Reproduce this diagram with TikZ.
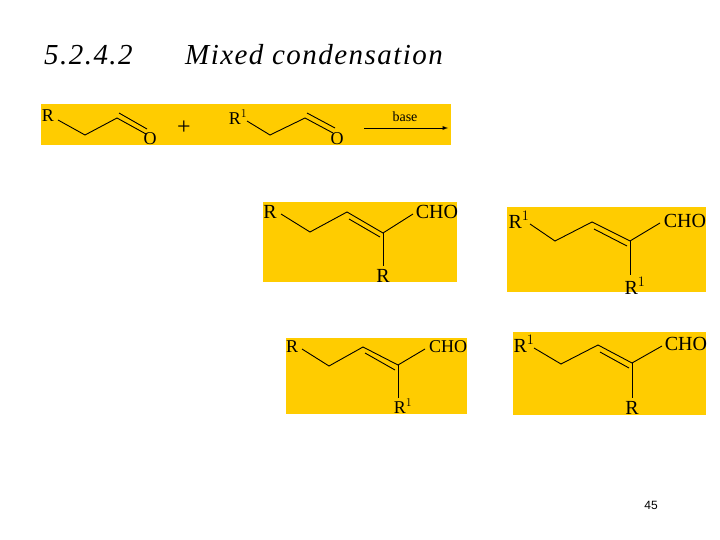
\documentclass[tikz,border=0pt]{standalone}
\usepackage{fontspec}
\setmainfont{Liberation Serif}
\newfontfamily\sans{Liberation Sans}
\newfontfamily\titlefont[LetterSpace=5]{Liberation Serif}
\definecolor{gold}{HTML}{FFCC00}
\begin{document}
\begin{tikzpicture}[x=1pt,y=-1pt,
  lbl/.style={inner sep=0pt,font=\fontsize{18}{18}\selectfont},
  big/.style={inner sep=0pt,font=\fontsize{20}{20}\selectfont},
  bond/.style={line width=0.9pt},
  box/.style={fill=gold}]
\useasboundingbox (0,0) rectangle (720,540);
\node[inner sep=0pt,font=\titlefont\fontsize{29}{29}\selectfont\itshape,anchor=west] (t1) at (44,55) {5.2.4.2};
\node[inner sep=0pt,font=\titlefont\fontsize{29}{29}\selectfont\itshape,anchor=west] (t2) at (185,55) {Mixed condensation};
\node[inner sep=0pt,font=\sans\fontsize{12}{12}\selectfont] (pg) at (651,505) {45};
% top bar
\fill[box] (41,104) rectangle (451,145);
\node[lbl] (r0) at (48,116) {R};
\draw[bond] (58,120)--(85,135)--(117,118)--(146,134);
\draw[bond] (119,113)--(147,129);
\node[lbl] (o0) at (150,139) {O};
\node[lbl,font=\fontsize{24}{24}\selectfont] (plus) at (184,128) {+};
\node[lbl] (r1) at (238,117) {R$^{1}$};
\draw[bond] (247,121)--(270,135)--(305,118)--(333,133);
\draw[bond] (307,113)--(335,128);
\node[lbl] (o1) at (337,139) {O};
\coordinate (a0) at (364,128); \coordinate (a1) at (448,128);
\draw[bond,-latex] (a0)--(a1);
\node[lbl,font=\fontsize{14}{14}\selectfont] (base) at (405,117) {base};
% box 1
\fill[box] (263,202) rectangle (457,282);
\node[big] (b1r) at (270,212) {R};
\draw[bond] (281,214)--(310,232)--(347,212)--(383,233)--(413,214);
\draw[bond] (349,219)--(380,237);
\draw[bond] (383,233)--(383,266);
\node[big] (b1c) at (437,212) {CHO};
\node[big] (b1b) at (383,276) {R};
% box 2
\fill[box] (507,207) rectangle (706,292);
\node[big] (b2r) at (519,220) {R$^{1}$};
\draw[bond] (530,224)--(555,241)--(592,222)--(630,241)--(660,223);
\draw[bond] (594,229)--(627,246);
\draw[bond] (630,241)--(630,275);
\node[big] (b2c) at (685,221) {CHO};
\node[big] (b2b) at (635,286) {R$^{1}$};
% box 3
\fill[box] (286,338) rectangle (467,414);
\node[lbl] (b3r) at (292,347) {R};
\draw[bond] (302,349)--(329,366)--(363,347)--(398,365)--(425,349);
\draw[bond] (365,353)--(395,370);
\draw[bond] (398,365)--(398,398);
\node[lbl] (b3c) at (448,347) {CHO};
\node[lbl] (b3b) at (403,406) {R$^{1}$};
% box 4
\fill[box] (513,332) rectangle (706,415);
\node[big] (b4r) at (524,344) {R$^{1}$};
\draw[bond] (534,348)--(561,364)--(598,345)--(632,363)--(662,346);
\draw[bond] (600,352)--(629,368);
\draw[bond] (632,363)--(632,398);
\node[big] (b4c) at (686,344) {CHO};
\node[big] (b4b) at (632,408) {R};
\end{tikzpicture}
\end{document}
